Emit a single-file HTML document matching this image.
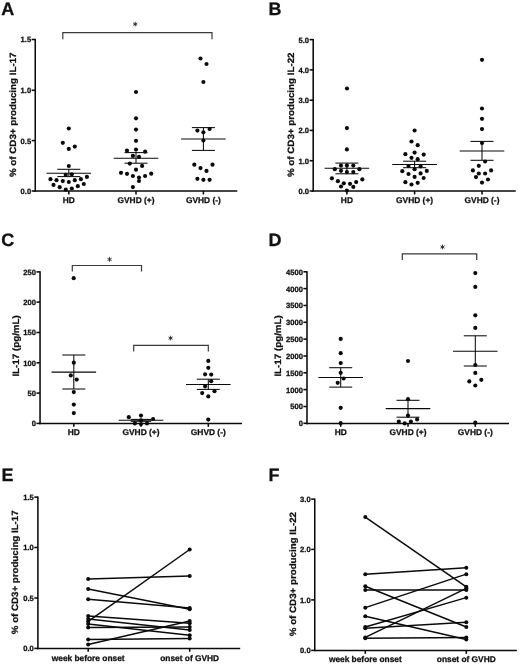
<!DOCTYPE html>
<html><head><meta charset="utf-8"><title>Figure</title>
<style>
html,body{margin:0;padding:0;background:#fff;}
body{width:520px;height:667px;overflow:hidden;}
svg{display:block;font-family:"Liberation Sans",sans-serif;will-change:transform;text-rendering:geometricPrecision;}
text{stroke:#111;stroke-width:0.28px;stroke-linejoin:round;}
</style></head>
<body>
<svg width="520" height="667" viewBox="0 0 520 667">
<rect x="0" y="0" width="520" height="667" fill="#ffffff"/>
<text x="1.2" y="15.0" font-size="18" text-anchor="start" font-weight="bold" fill="#111">A</text>
<line x1="35.25" y1="38.9" x2="35.25" y2="191.775" stroke="#0a0a0a" stroke-width="1.55" stroke-linecap="butt"/>
<line x1="34.475" y1="191.0" x2="237.3" y2="191.0" stroke="#0a0a0a" stroke-width="1.55" stroke-linecap="butt"/>
<line x1="31.65" y1="39.5" x2="35.25" y2="39.5" stroke="#0a0a0a" stroke-width="1.55" stroke-linecap="butt"/>
<text x="31.15" y="42.486" font-size="7.6" text-anchor="end" font-weight="bold" fill="#111">1.5</text>
<line x1="31.65" y1="90.3" x2="35.25" y2="90.3" stroke="#0a0a0a" stroke-width="1.55" stroke-linecap="butt"/>
<text x="31.15" y="93.286" font-size="7.6" text-anchor="end" font-weight="bold" fill="#111">1.0</text>
<line x1="31.65" y1="140.6" x2="35.25" y2="140.6" stroke="#0a0a0a" stroke-width="1.55" stroke-linecap="butt"/>
<text x="31.15" y="143.58599999999998" font-size="7.6" text-anchor="end" font-weight="bold" fill="#111">0.5</text>
<line x1="31.65" y1="191.0" x2="35.25" y2="191.0" stroke="#0a0a0a" stroke-width="1.55" stroke-linecap="butt"/>
<text x="31.15" y="193.986" font-size="7.6" text-anchor="end" font-weight="bold" fill="#111">0.0</text>
<line x1="68.8" y1="191.0" x2="68.8" y2="194.4" stroke="#0a0a0a" stroke-width="1.55" stroke-linecap="butt"/>
<text x="68.8" y="203.3" font-size="8.4" text-anchor="middle" font-weight="bold" fill="#111">HD</text>
<line x1="136" y1="191.0" x2="136" y2="194.4" stroke="#0a0a0a" stroke-width="1.55" stroke-linecap="butt"/>
<text x="136" y="203.3" font-size="8.4" text-anchor="middle" font-weight="bold" fill="#111">GVHD (+)</text>
<line x1="203.4" y1="191.0" x2="203.4" y2="194.4" stroke="#0a0a0a" stroke-width="1.55" stroke-linecap="butt"/>
<text x="203.4" y="203.3" font-size="8.4" text-anchor="middle" font-weight="bold" fill="#111">GVHD (-)</text>
<text x="16.0" y="114.75" font-size="9.15" text-anchor="middle" font-weight="bold" fill="#111" transform="rotate(-90 16.0 114.75)" textLength="124.6" lengthAdjust="spacingAndGlyphs">% of CD3+ producing IL-17</text>
<polyline points="62.8,39.2 62.8,32.7 212.0,32.7 212.0,39.2" fill="none" stroke="#3a3a3a" stroke-width="1.2"/>
<line x1="135.20" y1="21.75" x2="135.20" y2="26.45" stroke="#2a2a2a" stroke-width="0.95"/>
<line x1="133.16" y1="22.93" x2="137.24" y2="25.28" stroke="#2a2a2a" stroke-width="0.95"/>
<line x1="137.24" y1="22.93" x2="133.16" y2="25.28" stroke="#2a2a2a" stroke-width="0.95"/>
<circle cx="68.8" cy="128.5" r="2.08" fill="#0a0a0a"/>
<circle cx="62.8" cy="142.8" r="2.08" fill="#0a0a0a"/>
<circle cx="74.8" cy="146.6" r="2.08" fill="#0a0a0a"/>
<circle cx="68.8" cy="148.9" r="2.08" fill="#0a0a0a"/>
<circle cx="68.8" cy="166" r="2.08" fill="#0a0a0a"/>
<circle cx="65.7" cy="174.9" r="2.08" fill="#0a0a0a"/>
<circle cx="71.8" cy="174.3" r="2.08" fill="#0a0a0a"/>
<circle cx="50.5" cy="179.2" r="2.08" fill="#0a0a0a"/>
<circle cx="56.5" cy="180.2" r="2.08" fill="#0a0a0a"/>
<circle cx="62.8" cy="181.1" r="2.08" fill="#0a0a0a"/>
<circle cx="68.8" cy="182" r="2.08" fill="#0a0a0a"/>
<circle cx="74.8" cy="180.2" r="2.08" fill="#0a0a0a"/>
<circle cx="80.9" cy="179.2" r="2.08" fill="#0a0a0a"/>
<circle cx="86.9" cy="176.9" r="2.08" fill="#0a0a0a"/>
<circle cx="53.5" cy="184.9" r="2.08" fill="#0a0a0a"/>
<circle cx="59.7" cy="187.2" r="2.08" fill="#0a0a0a"/>
<circle cx="65.8" cy="189.7" r="2.08" fill="#0a0a0a"/>
<circle cx="71.8" cy="188.5" r="2.08" fill="#0a0a0a"/>
<circle cx="77.8" cy="186.2" r="2.08" fill="#0a0a0a"/>
<circle cx="83.8" cy="184" r="2.08" fill="#0a0a0a"/>
<line x1="46.5" y1="173.2" x2="91.1" y2="173.2" stroke="#0a0a0a" stroke-width="1.05" stroke-linecap="butt"/>
<line x1="57.3" y1="169.3" x2="80.3" y2="169.3" stroke="#0a0a0a" stroke-width="1.05" stroke-linecap="butt"/>
<line x1="57.3" y1="176.6" x2="80.3" y2="176.6" stroke="#0a0a0a" stroke-width="1.05" stroke-linecap="butt"/>
<line x1="68.8" y1="169.3" x2="68.8" y2="176.6" stroke="#0a0a0a" stroke-width="1.05" stroke-linecap="butt"/>
<circle cx="136" cy="92" r="2.08" fill="#0a0a0a"/>
<circle cx="136" cy="118.3" r="2.08" fill="#0a0a0a"/>
<circle cx="136" cy="129.6" r="2.08" fill="#0a0a0a"/>
<circle cx="136" cy="140.8" r="2.08" fill="#0a0a0a"/>
<circle cx="127" cy="150.7" r="2.08" fill="#0a0a0a"/>
<circle cx="136" cy="149.6" r="2.08" fill="#0a0a0a"/>
<circle cx="145.1" cy="151.7" r="2.08" fill="#0a0a0a"/>
<circle cx="132.9" cy="155.9" r="2.08" fill="#0a0a0a"/>
<circle cx="139" cy="156.9" r="2.08" fill="#0a0a0a"/>
<circle cx="129.8" cy="163.6" r="2.08" fill="#0a0a0a"/>
<circle cx="142.1" cy="165.9" r="2.08" fill="#0a0a0a"/>
<circle cx="136" cy="169.7" r="2.08" fill="#0a0a0a"/>
<circle cx="121" cy="172.8" r="2.08" fill="#0a0a0a"/>
<circle cx="127" cy="173.8" r="2.08" fill="#0a0a0a"/>
<circle cx="132.9" cy="176" r="2.08" fill="#0a0a0a"/>
<circle cx="139" cy="177.6" r="2.08" fill="#0a0a0a"/>
<circle cx="145.1" cy="176" r="2.08" fill="#0a0a0a"/>
<circle cx="151.2" cy="173.7" r="2.08" fill="#0a0a0a"/>
<circle cx="139" cy="181" r="2.08" fill="#0a0a0a"/>
<circle cx="132.9" cy="187.1" r="2.08" fill="#0a0a0a"/>
<line x1="113.7" y1="158.2" x2="158.3" y2="158.2" stroke="#0a0a0a" stroke-width="1.05" stroke-linecap="butt"/>
<line x1="124.5" y1="152.6" x2="147.5" y2="152.6" stroke="#0a0a0a" stroke-width="1.05" stroke-linecap="butt"/>
<line x1="124.5" y1="163.2" x2="147.5" y2="163.2" stroke="#0a0a0a" stroke-width="1.05" stroke-linecap="butt"/>
<line x1="136" y1="152.6" x2="136" y2="163.2" stroke="#0a0a0a" stroke-width="1.05" stroke-linecap="butt"/>
<circle cx="200.5" cy="58.5" r="2.08" fill="#0a0a0a"/>
<circle cx="206.5" cy="64" r="2.08" fill="#0a0a0a"/>
<circle cx="203.4" cy="82" r="2.08" fill="#0a0a0a"/>
<circle cx="197.4" cy="130.6" r="2.08" fill="#0a0a0a"/>
<circle cx="203.4" cy="132.3" r="2.08" fill="#0a0a0a"/>
<circle cx="209.6" cy="129" r="2.08" fill="#0a0a0a"/>
<circle cx="203.4" cy="140.5" r="2.08" fill="#0a0a0a"/>
<circle cx="194.3" cy="164.7" r="2.08" fill="#0a0a0a"/>
<circle cx="200.5" cy="168.1" r="2.08" fill="#0a0a0a"/>
<circle cx="206.5" cy="170.9" r="2.08" fill="#0a0a0a"/>
<circle cx="212.5" cy="164.7" r="2.08" fill="#0a0a0a"/>
<circle cx="197.4" cy="178.8" r="2.08" fill="#0a0a0a"/>
<circle cx="203.4" cy="179.8" r="2.08" fill="#0a0a0a"/>
<circle cx="209.6" cy="179.8" r="2.08" fill="#0a0a0a"/>
<line x1="181.1" y1="139.0" x2="225.70000000000002" y2="139.0" stroke="#0a0a0a" stroke-width="1.05" stroke-linecap="butt"/>
<line x1="191.9" y1="127.6" x2="214.9" y2="127.6" stroke="#0a0a0a" stroke-width="1.05" stroke-linecap="butt"/>
<line x1="191.9" y1="150.4" x2="214.9" y2="150.4" stroke="#0a0a0a" stroke-width="1.05" stroke-linecap="butt"/>
<line x1="203.4" y1="127.6" x2="203.4" y2="150.4" stroke="#0a0a0a" stroke-width="1.05" stroke-linecap="butt"/>
<text x="268.55" y="14.8" font-size="18" text-anchor="start" font-weight="bold" fill="#111">B</text>
<line x1="313.2" y1="39.0" x2="313.2" y2="191.775" stroke="#0a0a0a" stroke-width="1.55" stroke-linecap="butt"/>
<line x1="312.425" y1="191.0" x2="515.8" y2="191.0" stroke="#0a0a0a" stroke-width="1.55" stroke-linecap="butt"/>
<line x1="309.59999999999997" y1="39.6" x2="313.2" y2="39.6" stroke="#0a0a0a" stroke-width="1.55" stroke-linecap="butt"/>
<text x="309.09999999999997" y="42.586" font-size="7.6" text-anchor="end" font-weight="bold" fill="#111">5.0</text>
<line x1="309.59999999999997" y1="69.9" x2="313.2" y2="69.9" stroke="#0a0a0a" stroke-width="1.55" stroke-linecap="butt"/>
<text x="309.09999999999997" y="72.88600000000001" font-size="7.6" text-anchor="end" font-weight="bold" fill="#111">4.0</text>
<line x1="309.59999999999997" y1="100.2" x2="313.2" y2="100.2" stroke="#0a0a0a" stroke-width="1.55" stroke-linecap="butt"/>
<text x="309.09999999999997" y="103.186" font-size="7.6" text-anchor="end" font-weight="bold" fill="#111">3.0</text>
<line x1="309.59999999999997" y1="130.4" x2="313.2" y2="130.4" stroke="#0a0a0a" stroke-width="1.55" stroke-linecap="butt"/>
<text x="309.09999999999997" y="133.386" font-size="7.6" text-anchor="end" font-weight="bold" fill="#111">2.0</text>
<line x1="309.59999999999997" y1="160.7" x2="313.2" y2="160.7" stroke="#0a0a0a" stroke-width="1.55" stroke-linecap="butt"/>
<text x="309.09999999999997" y="163.68599999999998" font-size="7.6" text-anchor="end" font-weight="bold" fill="#111">1.0</text>
<line x1="309.59999999999997" y1="191.0" x2="313.2" y2="191.0" stroke="#0a0a0a" stroke-width="1.55" stroke-linecap="butt"/>
<text x="309.09999999999997" y="193.986" font-size="7.6" text-anchor="end" font-weight="bold" fill="#111">0.0</text>
<line x1="346.9" y1="191.0" x2="346.9" y2="194.4" stroke="#0a0a0a" stroke-width="1.55" stroke-linecap="butt"/>
<text x="346.9" y="203.3" font-size="8.4" text-anchor="middle" font-weight="bold" fill="#111">HD</text>
<line x1="414.6" y1="191.0" x2="414.6" y2="194.4" stroke="#0a0a0a" stroke-width="1.55" stroke-linecap="butt"/>
<text x="414.6" y="203.3" font-size="8.4" text-anchor="middle" font-weight="bold" fill="#111">GVHD (+)</text>
<line x1="482" y1="191.0" x2="482" y2="194.4" stroke="#0a0a0a" stroke-width="1.55" stroke-linecap="butt"/>
<text x="482" y="203.3" font-size="8.4" text-anchor="middle" font-weight="bold" fill="#111">GVHD (-)</text>
<text x="294.3" y="114.75" font-size="9.15" text-anchor="middle" font-weight="bold" fill="#111" transform="rotate(-90 294.3 114.75)" textLength="124.6" lengthAdjust="spacingAndGlyphs">% of CD3+ producing IL-22</text>
<circle cx="347" cy="88.5" r="2.08" fill="#0a0a0a"/>
<circle cx="346.9" cy="128.1" r="2.08" fill="#0a0a0a"/>
<circle cx="346.9" cy="149.4" r="2.08" fill="#0a0a0a"/>
<circle cx="341" cy="165.6" r="2.08" fill="#0a0a0a"/>
<circle cx="346.9" cy="165.6" r="2.08" fill="#0a0a0a"/>
<circle cx="353.3" cy="165.6" r="2.08" fill="#0a0a0a"/>
<circle cx="334.8" cy="169.2" r="2.08" fill="#0a0a0a"/>
<circle cx="359.4" cy="169.2" r="2.08" fill="#0a0a0a"/>
<circle cx="341" cy="170.8" r="2.08" fill="#0a0a0a"/>
<circle cx="346.9" cy="172.1" r="2.08" fill="#0a0a0a"/>
<circle cx="353.3" cy="172.1" r="2.08" fill="#0a0a0a"/>
<circle cx="331.9" cy="178.3" r="2.08" fill="#0a0a0a"/>
<circle cx="362.3" cy="179.4" r="2.08" fill="#0a0a0a"/>
<circle cx="337.9" cy="181.2" r="2.08" fill="#0a0a0a"/>
<circle cx="356.2" cy="182.1" r="2.08" fill="#0a0a0a"/>
<circle cx="343.8" cy="183.3" r="2.08" fill="#0a0a0a"/>
<circle cx="350" cy="183.8" r="2.08" fill="#0a0a0a"/>
<circle cx="341" cy="186.5" r="2.08" fill="#0a0a0a"/>
<circle cx="353.3" cy="186.9" r="2.08" fill="#0a0a0a"/>
<circle cx="346.9" cy="190.6" r="2.08" fill="#0a0a0a"/>
<line x1="324.59999999999997" y1="168.3" x2="369.2" y2="168.3" stroke="#0a0a0a" stroke-width="1.05" stroke-linecap="butt"/>
<line x1="335.4" y1="163.1" x2="358.4" y2="163.1" stroke="#0a0a0a" stroke-width="1.05" stroke-linecap="butt"/>
<line x1="335.4" y1="173.8" x2="358.4" y2="173.8" stroke="#0a0a0a" stroke-width="1.05" stroke-linecap="butt"/>
<line x1="346.9" y1="163.1" x2="346.9" y2="173.8" stroke="#0a0a0a" stroke-width="1.05" stroke-linecap="butt"/>
<circle cx="414.6" cy="130.5" r="2.08" fill="#0a0a0a"/>
<circle cx="411.5" cy="141.5" r="2.08" fill="#0a0a0a"/>
<circle cx="417.7" cy="145.2" r="2.08" fill="#0a0a0a"/>
<circle cx="405.4" cy="154.2" r="2.08" fill="#0a0a0a"/>
<circle cx="414.6" cy="152.6" r="2.08" fill="#0a0a0a"/>
<circle cx="423.7" cy="154.6" r="2.08" fill="#0a0a0a"/>
<circle cx="411.5" cy="157.8" r="2.08" fill="#0a0a0a"/>
<circle cx="417.7" cy="159.2" r="2.08" fill="#0a0a0a"/>
<circle cx="408.5" cy="166" r="2.08" fill="#0a0a0a"/>
<circle cx="420.6" cy="166.3" r="2.08" fill="#0a0a0a"/>
<circle cx="414.6" cy="169.2" r="2.08" fill="#0a0a0a"/>
<circle cx="402.3" cy="171.2" r="2.08" fill="#0a0a0a"/>
<circle cx="426.8" cy="170.9" r="2.08" fill="#0a0a0a"/>
<circle cx="408.5" cy="174" r="2.08" fill="#0a0a0a"/>
<circle cx="420.6" cy="173.4" r="2.08" fill="#0a0a0a"/>
<circle cx="414.6" cy="176.9" r="2.08" fill="#0a0a0a"/>
<circle cx="423.7" cy="178" r="2.08" fill="#0a0a0a"/>
<circle cx="405.4" cy="182.2" r="2.08" fill="#0a0a0a"/>
<circle cx="417.7" cy="182.8" r="2.08" fill="#0a0a0a"/>
<circle cx="411.5" cy="184.5" r="2.08" fill="#0a0a0a"/>
<line x1="392.3" y1="164.5" x2="436.90000000000003" y2="164.5" stroke="#0a0a0a" stroke-width="1.05" stroke-linecap="butt"/>
<line x1="403.1" y1="161.2" x2="426.1" y2="161.2" stroke="#0a0a0a" stroke-width="1.05" stroke-linecap="butt"/>
<line x1="403.1" y1="167.7" x2="426.1" y2="167.7" stroke="#0a0a0a" stroke-width="1.05" stroke-linecap="butt"/>
<line x1="414.6" y1="161.2" x2="414.6" y2="167.7" stroke="#0a0a0a" stroke-width="1.05" stroke-linecap="butt"/>
<circle cx="482" cy="59.8" r="2.08" fill="#0a0a0a"/>
<circle cx="482" cy="108.5" r="2.08" fill="#0a0a0a"/>
<circle cx="482" cy="118.8" r="2.08" fill="#0a0a0a"/>
<circle cx="482" cy="129.1" r="2.08" fill="#0a0a0a"/>
<circle cx="482" cy="143" r="2.08" fill="#0a0a0a"/>
<circle cx="485.1" cy="161.5" r="2.08" fill="#0a0a0a"/>
<circle cx="478.8" cy="165.8" r="2.08" fill="#0a0a0a"/>
<circle cx="472.9" cy="170.4" r="2.08" fill="#0a0a0a"/>
<circle cx="491.1" cy="170.4" r="2.08" fill="#0a0a0a"/>
<circle cx="478.8" cy="173.5" r="2.08" fill="#0a0a0a"/>
<circle cx="485.1" cy="173.5" r="2.08" fill="#0a0a0a"/>
<circle cx="476" cy="177.1" r="2.08" fill="#0a0a0a"/>
<circle cx="488" cy="179.5" r="2.08" fill="#0a0a0a"/>
<circle cx="482" cy="182.6" r="2.08" fill="#0a0a0a"/>
<line x1="459.7" y1="151" x2="504.3" y2="151" stroke="#0a0a0a" stroke-width="1.05" stroke-linecap="butt"/>
<line x1="470.5" y1="141.4" x2="493.5" y2="141.4" stroke="#0a0a0a" stroke-width="1.05" stroke-linecap="butt"/>
<line x1="470.5" y1="160.3" x2="493.5" y2="160.3" stroke="#0a0a0a" stroke-width="1.05" stroke-linecap="butt"/>
<line x1="482" y1="141.4" x2="482" y2="160.3" stroke="#0a0a0a" stroke-width="1.05" stroke-linecap="butt"/>
<text x="1.35" y="246.4" font-size="18" text-anchor="start" font-weight="bold" fill="#111">C</text>
<line x1="40.05" y1="271.29999999999995" x2="40.05" y2="424.17499999999995" stroke="#0a0a0a" stroke-width="1.55" stroke-linecap="butt"/>
<line x1="39.275" y1="423.4" x2="242" y2="423.4" stroke="#0a0a0a" stroke-width="1.55" stroke-linecap="butt"/>
<line x1="36.449999999999996" y1="271.9" x2="40.05" y2="271.9" stroke="#0a0a0a" stroke-width="1.55" stroke-linecap="butt"/>
<text x="35.949999999999996" y="274.88599999999997" font-size="7.6" text-anchor="end" font-weight="bold" fill="#111">250</text>
<line x1="36.449999999999996" y1="302.1" x2="40.05" y2="302.1" stroke="#0a0a0a" stroke-width="1.55" stroke-linecap="butt"/>
<text x="35.949999999999996" y="305.086" font-size="7.6" text-anchor="end" font-weight="bold" fill="#111">200</text>
<line x1="36.449999999999996" y1="332.5" x2="40.05" y2="332.5" stroke="#0a0a0a" stroke-width="1.55" stroke-linecap="butt"/>
<text x="35.949999999999996" y="335.486" font-size="7.6" text-anchor="end" font-weight="bold" fill="#111">150</text>
<line x1="36.449999999999996" y1="362.8" x2="40.05" y2="362.8" stroke="#0a0a0a" stroke-width="1.55" stroke-linecap="butt"/>
<text x="35.949999999999996" y="365.786" font-size="7.6" text-anchor="end" font-weight="bold" fill="#111">100</text>
<line x1="36.449999999999996" y1="393.1" x2="40.05" y2="393.1" stroke="#0a0a0a" stroke-width="1.55" stroke-linecap="butt"/>
<text x="35.949999999999996" y="396.086" font-size="7.6" text-anchor="end" font-weight="bold" fill="#111">50</text>
<line x1="36.449999999999996" y1="423.4" x2="40.05" y2="423.4" stroke="#0a0a0a" stroke-width="1.55" stroke-linecap="butt"/>
<text x="35.949999999999996" y="426.38599999999997" font-size="7.6" text-anchor="end" font-weight="bold" fill="#111">0</text>
<line x1="73.8" y1="423.4" x2="73.8" y2="426.79999999999995" stroke="#0a0a0a" stroke-width="1.55" stroke-linecap="butt"/>
<text x="73.8" y="435.0" font-size="8.4" text-anchor="middle" font-weight="bold" fill="#111">HD</text>
<line x1="141" y1="423.4" x2="141" y2="426.79999999999995" stroke="#0a0a0a" stroke-width="1.55" stroke-linecap="butt"/>
<text x="141" y="435.0" font-size="8.4" text-anchor="middle" font-weight="bold" fill="#111">GVHD (+)</text>
<line x1="208.3" y1="423.4" x2="208.3" y2="426.79999999999995" stroke="#0a0a0a" stroke-width="1.55" stroke-linecap="butt"/>
<text x="208.3" y="435.0" font-size="8.4" text-anchor="middle" font-weight="bold" fill="#111">GHVD (-)</text>
<text x="18.7" y="345.9" font-size="9.2" text-anchor="middle" font-weight="bold" fill="#111" transform="rotate(-90 18.7 345.9)" textLength="61.4" lengthAdjust="spacingAndGlyphs">IL-17 (pg/mL)</text>
<polyline points="72.3,271.5 72.3,265.5 141.5,265.5 141.5,271.5" fill="none" stroke="#3a3a3a" stroke-width="1.2"/>
<line x1="109.60" y1="257.05" x2="109.60" y2="261.75" stroke="#2a2a2a" stroke-width="0.95"/>
<line x1="107.56" y1="258.22" x2="111.64" y2="260.57" stroke="#2a2a2a" stroke-width="0.95"/>
<line x1="111.64" y1="258.22" x2="107.56" y2="260.57" stroke="#2a2a2a" stroke-width="0.95"/>
<polyline points="133.7,351.5 133.7,345.4 208.3,345.4 208.3,351.5" fill="none" stroke="#3a3a3a" stroke-width="1.2"/>
<line x1="170.60" y1="335.75" x2="170.60" y2="340.45" stroke="#2a2a2a" stroke-width="0.95"/>
<line x1="168.56" y1="336.93" x2="172.64" y2="339.28" stroke="#2a2a2a" stroke-width="0.95"/>
<line x1="172.64" y1="336.93" x2="168.56" y2="339.28" stroke="#2a2a2a" stroke-width="0.95"/>
<circle cx="73.7" cy="278.2" r="2.08" fill="#0a0a0a"/>
<circle cx="73.8" cy="362.7" r="2.08" fill="#0a0a0a"/>
<circle cx="70.8" cy="375.4" r="2.08" fill="#0a0a0a"/>
<circle cx="76.7" cy="379.6" r="2.08" fill="#0a0a0a"/>
<circle cx="73.8" cy="392.1" r="2.08" fill="#0a0a0a"/>
<circle cx="73.8" cy="404.6" r="2.08" fill="#0a0a0a"/>
<circle cx="73.8" cy="413.1" r="2.08" fill="#0a0a0a"/>
<line x1="51.5" y1="372.1" x2="96.1" y2="372.1" stroke="#0a0a0a" stroke-width="1.05" stroke-linecap="butt"/>
<line x1="62.3" y1="355" x2="85.3" y2="355" stroke="#0a0a0a" stroke-width="1.05" stroke-linecap="butt"/>
<line x1="62.3" y1="389" x2="85.3" y2="389" stroke="#0a0a0a" stroke-width="1.05" stroke-linecap="butt"/>
<line x1="73.8" y1="355" x2="73.8" y2="389" stroke="#0a0a0a" stroke-width="1.05" stroke-linecap="butt"/>
<circle cx="128.8" cy="417.2" r="2.08" fill="#0a0a0a"/>
<circle cx="141" cy="415.6" r="2.08" fill="#0a0a0a"/>
<circle cx="153.1" cy="419" r="2.08" fill="#0a0a0a"/>
<circle cx="134.9" cy="423.4" r="2.08" fill="#0a0a0a"/>
<circle cx="141" cy="424.1" r="2.08" fill="#0a0a0a"/>
<circle cx="147" cy="423.4" r="2.08" fill="#0a0a0a"/>
<circle cx="141" cy="420.3" r="2.08" fill="#0a0a0a"/>
<line x1="118.7" y1="420.3" x2="163.3" y2="420.3" stroke="#0a0a0a" stroke-width="1.05" stroke-linecap="butt"/>
<line x1="130.8" y1="419.4" x2="151.2" y2="419.4" stroke="#0a0a0a" stroke-width="1.05" stroke-linecap="butt"/>
<line x1="130.8" y1="421.3" x2="151.2" y2="421.3" stroke="#0a0a0a" stroke-width="1.05" stroke-linecap="butt"/>
<line x1="141" y1="419.4" x2="141" y2="421.3" stroke="#0a0a0a" stroke-width="1.05" stroke-linecap="butt"/>
<circle cx="208.3" cy="360.9" r="2.08" fill="#0a0a0a"/>
<circle cx="208.3" cy="367.8" r="2.08" fill="#0a0a0a"/>
<circle cx="205.1" cy="374.3" r="2.08" fill="#0a0a0a"/>
<circle cx="211.2" cy="374.6" r="2.08" fill="#0a0a0a"/>
<circle cx="211.2" cy="381.2" r="2.08" fill="#0a0a0a"/>
<circle cx="205.1" cy="386.3" r="2.08" fill="#0a0a0a"/>
<circle cx="214.5" cy="391.2" r="2.08" fill="#0a0a0a"/>
<circle cx="202.2" cy="393.1" r="2.08" fill="#0a0a0a"/>
<circle cx="208.3" cy="396.4" r="2.08" fill="#0a0a0a"/>
<circle cx="208.3" cy="419.6" r="2.08" fill="#0a0a0a"/>
<line x1="186.0" y1="384.4" x2="230.60000000000002" y2="384.4" stroke="#0a0a0a" stroke-width="1.05" stroke-linecap="butt"/>
<line x1="196.8" y1="379.2" x2="219.8" y2="379.2" stroke="#0a0a0a" stroke-width="1.05" stroke-linecap="butt"/>
<line x1="196.8" y1="389.4" x2="219.8" y2="389.4" stroke="#0a0a0a" stroke-width="1.05" stroke-linecap="butt"/>
<line x1="208.3" y1="379.2" x2="208.3" y2="389.4" stroke="#0a0a0a" stroke-width="1.05" stroke-linecap="butt"/>
<text x="268.55" y="246.4" font-size="18" text-anchor="start" font-weight="bold" fill="#111">D</text>
<line x1="307.0" y1="271.29999999999995" x2="307.0" y2="424.17499999999995" stroke="#0a0a0a" stroke-width="1.55" stroke-linecap="butt"/>
<line x1="306.225" y1="423.4" x2="509" y2="423.4" stroke="#0a0a0a" stroke-width="1.55" stroke-linecap="butt"/>
<line x1="303.4" y1="271.8" x2="307.0" y2="271.8" stroke="#0a0a0a" stroke-width="1.55" stroke-linecap="butt"/>
<text x="302.9" y="274.786" font-size="7.6" text-anchor="end" font-weight="bold" fill="#111">4500</text>
<line x1="303.4" y1="288.6" x2="307.0" y2="288.6" stroke="#0a0a0a" stroke-width="1.55" stroke-linecap="butt"/>
<text x="302.9" y="291.586" font-size="7.6" text-anchor="end" font-weight="bold" fill="#111">4000</text>
<line x1="303.4" y1="305.5" x2="307.0" y2="305.5" stroke="#0a0a0a" stroke-width="1.55" stroke-linecap="butt"/>
<text x="302.9" y="308.486" font-size="7.6" text-anchor="end" font-weight="bold" fill="#111">3500</text>
<line x1="303.4" y1="322.3" x2="307.0" y2="322.3" stroke="#0a0a0a" stroke-width="1.55" stroke-linecap="butt"/>
<text x="302.9" y="325.286" font-size="7.6" text-anchor="end" font-weight="bold" fill="#111">3000</text>
<line x1="303.4" y1="339.1" x2="307.0" y2="339.1" stroke="#0a0a0a" stroke-width="1.55" stroke-linecap="butt"/>
<text x="302.9" y="342.086" font-size="7.6" text-anchor="end" font-weight="bold" fill="#111">2500</text>
<line x1="303.4" y1="356" x2="307.0" y2="356" stroke="#0a0a0a" stroke-width="1.55" stroke-linecap="butt"/>
<text x="302.9" y="358.986" font-size="7.6" text-anchor="end" font-weight="bold" fill="#111">2000</text>
<line x1="303.4" y1="372.8" x2="307.0" y2="372.8" stroke="#0a0a0a" stroke-width="1.55" stroke-linecap="butt"/>
<text x="302.9" y="375.786" font-size="7.6" text-anchor="end" font-weight="bold" fill="#111">1500</text>
<line x1="303.4" y1="389.6" x2="307.0" y2="389.6" stroke="#0a0a0a" stroke-width="1.55" stroke-linecap="butt"/>
<text x="302.9" y="392.586" font-size="7.6" text-anchor="end" font-weight="bold" fill="#111">1000</text>
<line x1="303.4" y1="406.5" x2="307.0" y2="406.5" stroke="#0a0a0a" stroke-width="1.55" stroke-linecap="butt"/>
<text x="302.9" y="409.486" font-size="7.6" text-anchor="end" font-weight="bold" fill="#111">500</text>
<line x1="303.4" y1="423.3" x2="307.0" y2="423.3" stroke="#0a0a0a" stroke-width="1.55" stroke-linecap="butt"/>
<text x="302.9" y="426.286" font-size="7.6" text-anchor="end" font-weight="bold" fill="#111">0</text>
<line x1="340.7" y1="423.4" x2="340.7" y2="426.79999999999995" stroke="#0a0a0a" stroke-width="1.55" stroke-linecap="butt"/>
<text x="340.7" y="435.0" font-size="8.4" text-anchor="middle" font-weight="bold" fill="#111">HD</text>
<line x1="408" y1="423.4" x2="408" y2="426.79999999999995" stroke="#0a0a0a" stroke-width="1.55" stroke-linecap="butt"/>
<text x="408" y="435.0" font-size="8.4" text-anchor="middle" font-weight="bold" fill="#111">GVHD (+)</text>
<line x1="475.3" y1="423.4" x2="475.3" y2="426.79999999999995" stroke="#0a0a0a" stroke-width="1.55" stroke-linecap="butt"/>
<text x="475.3" y="435.0" font-size="8.4" text-anchor="middle" font-weight="bold" fill="#111">GVHD (-)</text>
<text x="281.0" y="345.9" font-size="9.2" text-anchor="middle" font-weight="bold" fill="#111" transform="rotate(-90 281.0 345.9)" textLength="61.4" lengthAdjust="spacingAndGlyphs">IL-17 (pg/mL)</text>
<polyline points="402.3,260 402.3,253.9 476.7,253.9 476.7,260" fill="none" stroke="#3a3a3a" stroke-width="1.2"/>
<line x1="442.50" y1="244.65" x2="442.50" y2="249.35" stroke="#2a2a2a" stroke-width="0.95"/>
<line x1="440.46" y1="245.82" x2="444.54" y2="248.18" stroke="#2a2a2a" stroke-width="0.95"/>
<line x1="444.54" y1="245.82" x2="440.46" y2="248.18" stroke="#2a2a2a" stroke-width="0.95"/>
<circle cx="340.7" cy="338.9" r="2.08" fill="#0a0a0a"/>
<circle cx="340.7" cy="353.2" r="2.08" fill="#0a0a0a"/>
<circle cx="340.7" cy="363.1" r="2.08" fill="#0a0a0a"/>
<circle cx="340.7" cy="372.8" r="2.08" fill="#0a0a0a"/>
<circle cx="343.6" cy="378.5" r="2.08" fill="#0a0a0a"/>
<circle cx="337.7" cy="382.8" r="2.08" fill="#0a0a0a"/>
<circle cx="340.7" cy="407.8" r="2.08" fill="#0a0a0a"/>
<circle cx="340.7" cy="423.2" r="2.08" fill="#0a0a0a"/>
<line x1="318.4" y1="377.4" x2="363.0" y2="377.4" stroke="#0a0a0a" stroke-width="1.05" stroke-linecap="butt"/>
<line x1="329.2" y1="367.7" x2="352.2" y2="367.7" stroke="#0a0a0a" stroke-width="1.05" stroke-linecap="butt"/>
<line x1="329.2" y1="387.1" x2="352.2" y2="387.1" stroke="#0a0a0a" stroke-width="1.05" stroke-linecap="butt"/>
<line x1="340.7" y1="367.7" x2="340.7" y2="387.1" stroke="#0a0a0a" stroke-width="1.05" stroke-linecap="butt"/>
<circle cx="408" cy="361" r="2.08" fill="#0a0a0a"/>
<circle cx="408" cy="399.2" r="2.08" fill="#0a0a0a"/>
<circle cx="408" cy="415.6" r="2.08" fill="#0a0a0a"/>
<circle cx="398.8" cy="421.5" r="2.08" fill="#0a0a0a"/>
<circle cx="404.7" cy="423.4" r="2.08" fill="#0a0a0a"/>
<circle cx="410.9" cy="421.5" r="2.08" fill="#0a0a0a"/>
<circle cx="417.1" cy="419.4" r="2.08" fill="#0a0a0a"/>
<line x1="385.7" y1="408.6" x2="430.3" y2="408.6" stroke="#0a0a0a" stroke-width="1.05" stroke-linecap="butt"/>
<line x1="396.5" y1="400.3" x2="419.5" y2="400.3" stroke="#0a0a0a" stroke-width="1.05" stroke-linecap="butt"/>
<line x1="396.5" y1="417.2" x2="419.5" y2="417.2" stroke="#0a0a0a" stroke-width="1.05" stroke-linecap="butt"/>
<line x1="408" y1="400.3" x2="408" y2="417.2" stroke="#0a0a0a" stroke-width="1.05" stroke-linecap="butt"/>
<circle cx="475.3" cy="273.1" r="2.08" fill="#0a0a0a"/>
<circle cx="475.3" cy="286.9" r="2.08" fill="#0a0a0a"/>
<circle cx="475.3" cy="315.3" r="2.08" fill="#0a0a0a"/>
<circle cx="475.3" cy="327.9" r="2.08" fill="#0a0a0a"/>
<circle cx="475.3" cy="365" r="2.08" fill="#0a0a0a"/>
<circle cx="475.3" cy="372.9" r="2.08" fill="#0a0a0a"/>
<circle cx="481.3" cy="379.8" r="2.08" fill="#0a0a0a"/>
<circle cx="469.3" cy="381.4" r="2.08" fill="#0a0a0a"/>
<circle cx="475.3" cy="385.5" r="2.08" fill="#0a0a0a"/>
<circle cx="475.3" cy="422.7" r="2.08" fill="#0a0a0a"/>
<line x1="453.0" y1="351.2" x2="497.6" y2="351.2" stroke="#0a0a0a" stroke-width="1.05" stroke-linecap="butt"/>
<line x1="463.8" y1="335.8" x2="486.8" y2="335.8" stroke="#0a0a0a" stroke-width="1.05" stroke-linecap="butt"/>
<line x1="463.8" y1="366" x2="486.8" y2="366" stroke="#0a0a0a" stroke-width="1.05" stroke-linecap="butt"/>
<line x1="475.3" y1="335.8" x2="475.3" y2="366" stroke="#0a0a0a" stroke-width="1.05" stroke-linecap="butt"/>
<text x="1.4" y="481.1" font-size="18" text-anchor="start" font-weight="bold" fill="#111">E</text>
<line x1="37.9" y1="496.5" x2="37.9" y2="649.175" stroke="#0a0a0a" stroke-width="1.55" stroke-linecap="butt"/>
<line x1="37.125" y1="648.4" x2="240.2" y2="648.4" stroke="#0a0a0a" stroke-width="1.55" stroke-linecap="butt"/>
<line x1="34.3" y1="497.1" x2="37.9" y2="497.1" stroke="#0a0a0a" stroke-width="1.55" stroke-linecap="butt"/>
<text x="33.8" y="500.086" font-size="7.6" text-anchor="end" font-weight="bold" fill="#111">1.5</text>
<line x1="34.3" y1="547.5" x2="37.9" y2="547.5" stroke="#0a0a0a" stroke-width="1.55" stroke-linecap="butt"/>
<text x="33.8" y="550.486" font-size="7.6" text-anchor="end" font-weight="bold" fill="#111">1.0</text>
<line x1="34.3" y1="598.0" x2="37.9" y2="598.0" stroke="#0a0a0a" stroke-width="1.55" stroke-linecap="butt"/>
<text x="33.8" y="600.986" font-size="7.6" text-anchor="end" font-weight="bold" fill="#111">0.5</text>
<line x1="34.3" y1="648.4" x2="37.9" y2="648.4" stroke="#0a0a0a" stroke-width="1.55" stroke-linecap="butt"/>
<text x="33.8" y="651.386" font-size="7.6" text-anchor="end" font-weight="bold" fill="#111">0.0</text>
<line x1="88.2" y1="648.4" x2="88.2" y2="651.8" stroke="#0a0a0a" stroke-width="1.55" stroke-linecap="butt"/>
<text x="88.2" y="660.8" font-size="8.35" text-anchor="middle" font-weight="bold" fill="#111">week before onset</text>
<line x1="189.7" y1="648.4" x2="189.7" y2="651.8" stroke="#0a0a0a" stroke-width="1.55" stroke-linecap="butt"/>
<text x="189.7" y="660.8" font-size="8.35" text-anchor="middle" font-weight="bold" fill="#111">onset of GVHD</text>
<text x="18.5" y="572.3" font-size="9.15" text-anchor="middle" font-weight="bold" fill="#111" transform="rotate(-90 18.5 572.3)" textLength="123.8" lengthAdjust="spacingAndGlyphs">% of CD3+ producing IL-17</text>
<line x1="88.2" y1="578.9" x2="189.7" y2="575.9" stroke="#0a0a0a" stroke-width="1.5" stroke-linecap="butt"/>
<line x1="88.2" y1="589.1" x2="189.7" y2="609.3" stroke="#0a0a0a" stroke-width="1.5" stroke-linecap="butt"/>
<line x1="88.2" y1="599.3" x2="189.7" y2="608.1" stroke="#0a0a0a" stroke-width="1.5" stroke-linecap="butt"/>
<line x1="88.2" y1="621.4" x2="189.7" y2="549.5" stroke="#0a0a0a" stroke-width="1.5" stroke-linecap="butt"/>
<line x1="88.2" y1="644.5" x2="189.7" y2="621.0" stroke="#0a0a0a" stroke-width="1.5" stroke-linecap="butt"/>
<line x1="88.2" y1="639.4" x2="189.7" y2="638.6" stroke="#0a0a0a" stroke-width="1.5" stroke-linecap="butt"/>
<line x1="88.2" y1="616.1" x2="189.7" y2="623.3" stroke="#0a0a0a" stroke-width="1.5" stroke-linecap="butt"/>
<line x1="88.2" y1="619.0" x2="189.7" y2="630.0" stroke="#0a0a0a" stroke-width="1.5" stroke-linecap="butt"/>
<line x1="88.2" y1="624.1" x2="189.7" y2="635.3" stroke="#0a0a0a" stroke-width="1.5" stroke-linecap="butt"/>
<line x1="88.2" y1="627.6" x2="189.7" y2="627.1" stroke="#0a0a0a" stroke-width="1.5" stroke-linecap="butt"/>
<circle cx="88.2" cy="578.9" r="2.02" fill="#0a0a0a"/>
<circle cx="88.2" cy="589.1" r="2.02" fill="#0a0a0a"/>
<circle cx="88.2" cy="599.3" r="2.02" fill="#0a0a0a"/>
<circle cx="88.2" cy="621.4" r="2.02" fill="#0a0a0a"/>
<circle cx="88.2" cy="644.5" r="2.02" fill="#0a0a0a"/>
<circle cx="88.2" cy="639.4" r="2.02" fill="#0a0a0a"/>
<circle cx="88.2" cy="616.1" r="2.02" fill="#0a0a0a"/>
<circle cx="88.2" cy="619.0" r="2.02" fill="#0a0a0a"/>
<circle cx="88.2" cy="624.1" r="2.02" fill="#0a0a0a"/>
<circle cx="88.2" cy="627.6" r="2.02" fill="#0a0a0a"/>
<circle cx="189.7" cy="575.9" r="2.02" fill="#0a0a0a"/>
<circle cx="189.7" cy="609.3" r="2.02" fill="#0a0a0a"/>
<circle cx="189.7" cy="608.1" r="2.02" fill="#0a0a0a"/>
<circle cx="189.7" cy="549.5" r="2.02" fill="#0a0a0a"/>
<circle cx="189.7" cy="621.0" r="2.02" fill="#0a0a0a"/>
<circle cx="189.7" cy="638.6" r="2.02" fill="#0a0a0a"/>
<circle cx="189.7" cy="623.3" r="2.02" fill="#0a0a0a"/>
<circle cx="189.7" cy="630.0" r="2.02" fill="#0a0a0a"/>
<circle cx="189.7" cy="635.3" r="2.02" fill="#0a0a0a"/>
<circle cx="189.7" cy="627.1" r="2.02" fill="#0a0a0a"/>
<text x="268.55" y="481.1" font-size="18" text-anchor="start" font-weight="bold" fill="#111">F</text>
<line x1="314.75" y1="498.5" x2="314.75" y2="651.175" stroke="#0a0a0a" stroke-width="1.55" stroke-linecap="butt"/>
<line x1="313.975" y1="650.4" x2="516.8" y2="650.4" stroke="#0a0a0a" stroke-width="1.55" stroke-linecap="butt"/>
<line x1="311.15" y1="499.1" x2="314.75" y2="499.1" stroke="#0a0a0a" stroke-width="1.55" stroke-linecap="butt"/>
<text x="310.65" y="502.086" font-size="7.6" text-anchor="end" font-weight="bold" fill="#111">3.0</text>
<line x1="311.15" y1="549.4" x2="314.75" y2="549.4" stroke="#0a0a0a" stroke-width="1.55" stroke-linecap="butt"/>
<text x="310.65" y="552.386" font-size="7.6" text-anchor="end" font-weight="bold" fill="#111">2.0</text>
<line x1="311.15" y1="599.9" x2="314.75" y2="599.9" stroke="#0a0a0a" stroke-width="1.55" stroke-linecap="butt"/>
<text x="310.65" y="602.886" font-size="7.6" text-anchor="end" font-weight="bold" fill="#111">1.0</text>
<line x1="311.15" y1="650.4" x2="314.75" y2="650.4" stroke="#0a0a0a" stroke-width="1.55" stroke-linecap="butt"/>
<text x="310.65" y="653.386" font-size="7.6" text-anchor="end" font-weight="bold" fill="#111">0.0</text>
<line x1="365.3" y1="650.4" x2="365.3" y2="653.8" stroke="#0a0a0a" stroke-width="1.55" stroke-linecap="butt"/>
<text x="365.3" y="662.4" font-size="8.35" text-anchor="middle" font-weight="bold" fill="#111">week before onset</text>
<line x1="466.3" y1="650.4" x2="466.3" y2="653.8" stroke="#0a0a0a" stroke-width="1.55" stroke-linecap="butt"/>
<text x="466.3" y="662.4" font-size="8.35" text-anchor="middle" font-weight="bold" fill="#111">onset of GVHD</text>
<text x="295.6" y="574.1" font-size="9.15" text-anchor="middle" font-weight="bold" fill="#111" transform="rotate(-90 295.6 574.1)" textLength="124.2" lengthAdjust="spacingAndGlyphs">% of CD3+ producing IL-22</text>
<line x1="365.3" y1="517.05" x2="466.3" y2="586.85" stroke="#0a0a0a" stroke-width="1.5" stroke-linecap="butt"/>
<line x1="365.3" y1="574.15" x2="466.3" y2="567.85" stroke="#0a0a0a" stroke-width="1.5" stroke-linecap="butt"/>
<line x1="365.3" y1="586.25" x2="466.3" y2="627.05" stroke="#0a0a0a" stroke-width="1.5" stroke-linecap="butt"/>
<line x1="365.3" y1="590.05" x2="466.3" y2="590.05" stroke="#0a0a0a" stroke-width="1.5" stroke-linecap="butt"/>
<line x1="365.3" y1="607.65" x2="466.3" y2="574.15" stroke="#0a0a0a" stroke-width="1.5" stroke-linecap="butt"/>
<line x1="365.3" y1="616.35" x2="466.3" y2="639.55" stroke="#0a0a0a" stroke-width="1.5" stroke-linecap="butt"/>
<line x1="365.3" y1="627.05" x2="466.3" y2="597.65" stroke="#0a0a0a" stroke-width="1.5" stroke-linecap="butt"/>
<line x1="365.3" y1="628.15" x2="466.3" y2="622.25" stroke="#0a0a0a" stroke-width="1.5" stroke-linecap="butt"/>
<line x1="365.3" y1="637.45" x2="466.3" y2="588.35" stroke="#0a0a0a" stroke-width="1.5" stroke-linecap="butt"/>
<line x1="365.3" y1="638.15" x2="466.3" y2="637.45" stroke="#0a0a0a" stroke-width="1.5" stroke-linecap="butt"/>
<circle cx="365.3" cy="517.05" r="2.02" fill="#0a0a0a"/>
<circle cx="365.3" cy="574.15" r="2.02" fill="#0a0a0a"/>
<circle cx="365.3" cy="586.25" r="2.02" fill="#0a0a0a"/>
<circle cx="365.3" cy="590.05" r="2.02" fill="#0a0a0a"/>
<circle cx="365.3" cy="607.65" r="2.02" fill="#0a0a0a"/>
<circle cx="365.3" cy="616.35" r="2.02" fill="#0a0a0a"/>
<circle cx="365.3" cy="627.05" r="2.02" fill="#0a0a0a"/>
<circle cx="365.3" cy="628.15" r="2.02" fill="#0a0a0a"/>
<circle cx="365.3" cy="637.45" r="2.02" fill="#0a0a0a"/>
<circle cx="365.3" cy="638.15" r="2.02" fill="#0a0a0a"/>
<circle cx="466.3" cy="586.85" r="2.02" fill="#0a0a0a"/>
<circle cx="466.3" cy="567.85" r="2.02" fill="#0a0a0a"/>
<circle cx="466.3" cy="627.05" r="2.02" fill="#0a0a0a"/>
<circle cx="466.3" cy="590.05" r="2.02" fill="#0a0a0a"/>
<circle cx="466.3" cy="574.15" r="2.02" fill="#0a0a0a"/>
<circle cx="466.3" cy="639.55" r="2.02" fill="#0a0a0a"/>
<circle cx="466.3" cy="597.65" r="2.02" fill="#0a0a0a"/>
<circle cx="466.3" cy="622.25" r="2.02" fill="#0a0a0a"/>
<circle cx="466.3" cy="588.35" r="2.02" fill="#0a0a0a"/>
<circle cx="466.3" cy="637.45" r="2.02" fill="#0a0a0a"/>
</svg>
</body></html>
